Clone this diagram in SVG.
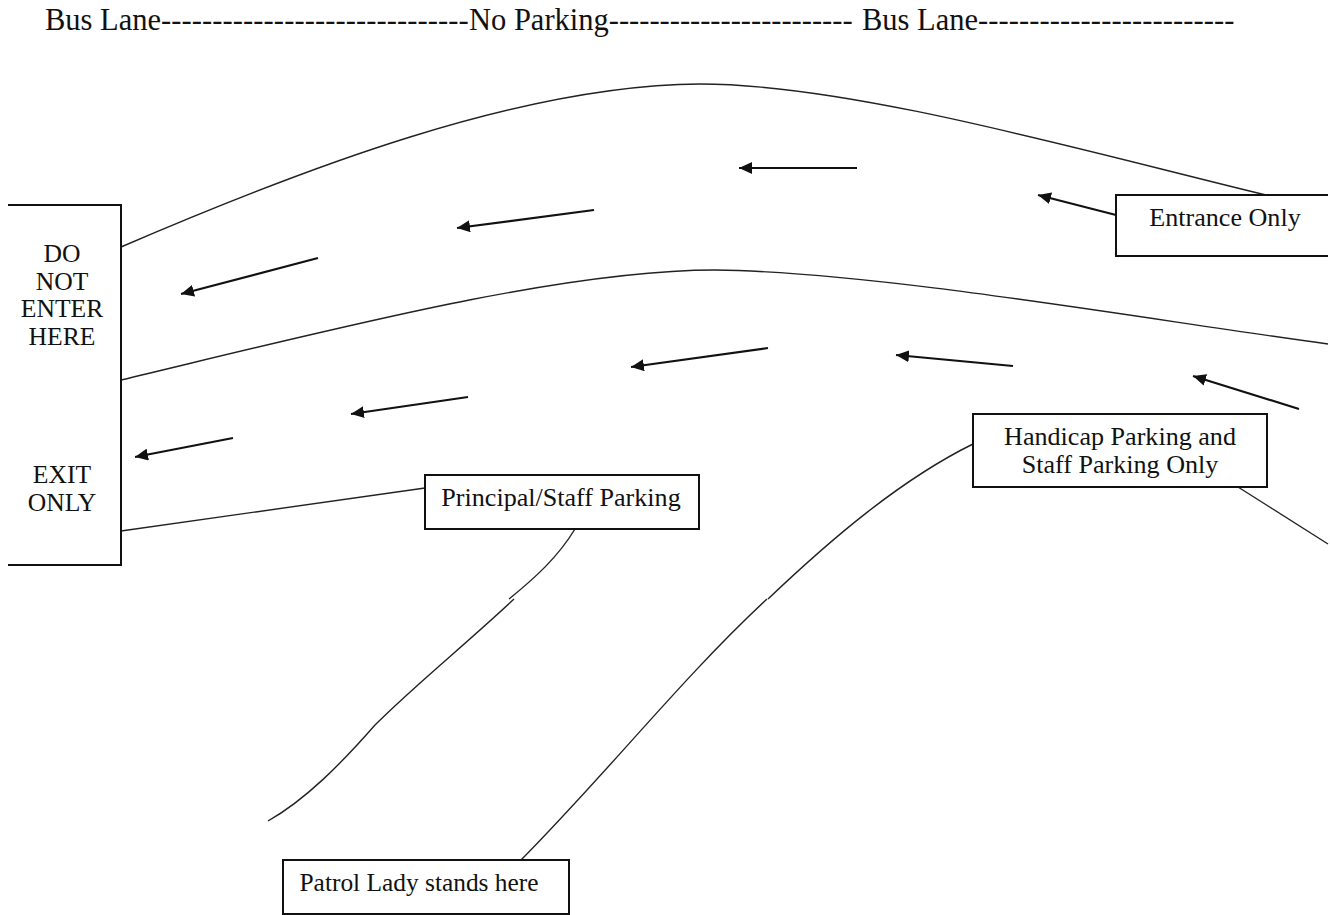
<svg xmlns="http://www.w3.org/2000/svg" width="1330" height="915" viewBox="0 0 1330 915">
<style>
text{font-family:"Liberation Serif","Times New Roman",serif;fill:#111}
.t{font-size:25.6px;text-anchor:middle}
.w{font-size:26.1px}
.p{font-size:25.4px}
.h{font-size:30.5px}
.d{letter-spacing:.1px}
.box{fill:#fff;stroke:#111;stroke-width:2}
.ln{fill:none;stroke:#222;stroke-width:1.4}
.ar{fill:none;stroke:#111;stroke-width:2.2;marker-end:url(#a)}
</style>
<defs><marker id="a" markerUnits="userSpaceOnUse" markerWidth="14" markerHeight="12" refX="13" refY="6" orient="auto"><path d="M0 0L13 6L0 12Z" fill="#111"/></marker></defs>
<rect width="1330" height="915" fill="#fff"/>
<text class="h" y="30"><tspan x="45">Bus Lane</tspan><tspan class="d">------------------------------</tspan><tspan x="469">No Parking------------------------</tspan><tspan x="862">Bus Lane</tspan><tspan class="d">-------------------------</tspan></text>
<g id="connectors">
<path class="ln" d="M121 247C300 170 520 85 700 84C850 84 1080 150 1266 195"/>
<path class="ln" d="M121 380C330 330 560 270 715 270C880 272 1150 320 1328 344"/>
<path class="ln" d="M121 531L425 488"/>
<path class="ln" d="M575 529C558 557 535 578 509 599"/>
<path class="ln" d="M514 599C465 645 415 685 375 725C340 765 305 800 268 821"/>
<path class="ln" d="M973 444C900 480 830 540 768 599"/>
<path class="ln" d="M767 599C680 680 610 770 521 860"/>
<path class="ln" d="M1238 487L1328 544"/>
<path class="ar" d="M857 168H739"/>
<path class="ar" d="M594 210L457 228"/>
<path class="ar" d="M318 258L181 294"/>
<path class="ar" d="M1116 215L1038 195"/>
<path class="ar" d="M768 348L631 367"/>
<path class="ar" d="M1013 366L896 355"/>
<path class="ar" d="M1299 409L1193 376"/>
<path class="ar" d="M468 397L351 414"/>
<path class="ar" d="M233 438L135 457"/>
</g>
<g id="exit-sign"><path class="box" d="M8 205H121V565H8"/>
<text class="t" x="62" y="262">DO</text><text class="t" x="62" y="290">NOT</text><text class="t" x="62" y="317">ENTER</text><text class="t" x="62" y="345">HERE</text><text class="t" x="62" y="483">EXIT</text><text class="t" x="62" y="511">ONLY</text></g>
<g id="entrance"><path class="box" d="M1328 195H1116V256H1328"/><text class="t w" x="1225" y="226">Entrance Only</text></g>
<g id="handicap"><rect class="box" x="973" y="414" width="294" height="73"/><text class="t w" x="1120" y="445">Handicap Parking and</text><text class="t w" x="1120" y="473">Staff Parking Only</text></g>
<g id="principal"><rect class="box" x="425" y="475" width="274" height="54"/><text class="t w" x="561" y="506">Principal/Staff Parking</text></g>
<g id="patrol"><rect class="box" x="283" y="860" width="286" height="54"/><text class="t p" x="419" y="891">Patrol Lady stands here</text></g>
</svg>
